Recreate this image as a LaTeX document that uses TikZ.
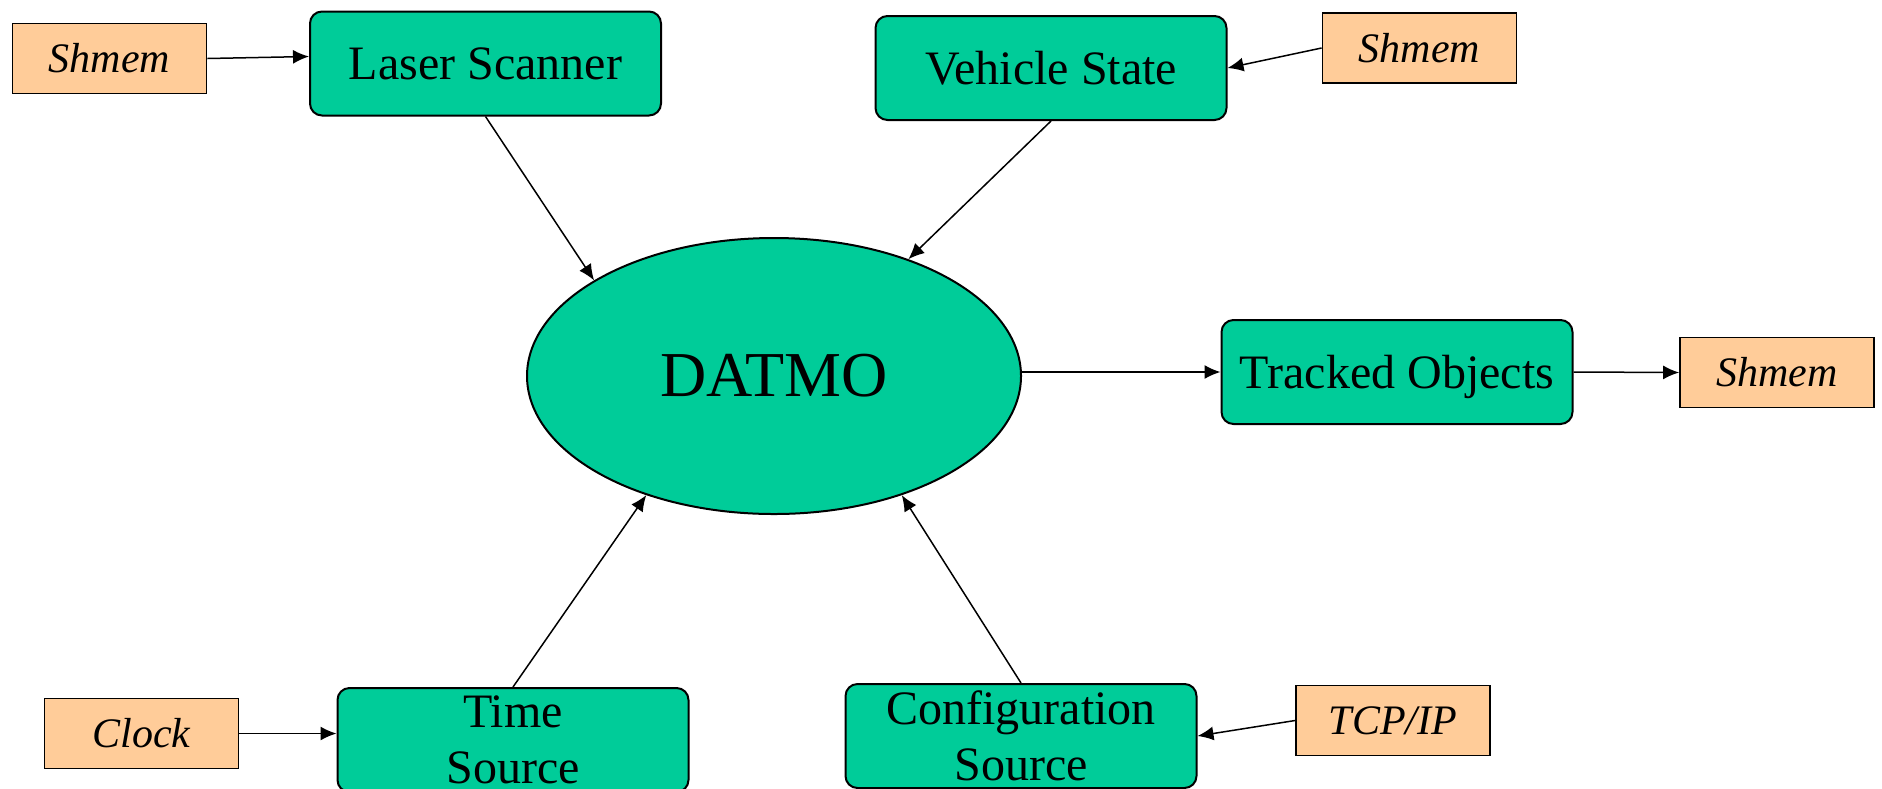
\documentclass[tikz,border=0pt]{standalone}
\usepackage{fontspec}
\setmainfont{Liberation Serif}
\usetikzlibrary{shapes.geometric,arrows.meta}
\definecolor{boxgreen}{RGB}{0,204,153}
\definecolor{boxorange}{RGB}{255,204,153}
\begin{document}
\begin{tikzpicture}[x=0.5pt,y=-0.5pt,
  module/.style={draw=black, line width=1pt, fill=boxgreen, rounded corners=6pt,
    minimum width=175.5pt, minimum height=52pt, inner sep=0pt,
    font=\fontsize{24}{28}\selectfont, align=center},
  src/.style={draw=black, line width=0.9pt, fill=boxorange,
    minimum width=97pt, minimum height=35pt, inner sep=0pt,
    font=\fontsize{21}{25}\selectfont\itshape},
  flow/.style={-{Latex[length=8pt,width=7pt]}, line width=0.75pt}]
\useasboundingbox (0,0) rectangle (1882,788);

\node[src] (shm1) at (109.5,58.5) {Shmem};
\node[module] (laser) at (485.5,63.5) {Laser Scanner};
\node[module] (vehicle) at (1051,68) {Vehicle State};
\node[src] (shm2) at (1419.5,48) {Shmem};
\node[ellipse, draw=black, line width=1pt, fill=boxgreen, minimum width=247pt,
  minimum height=138pt, inner sep=0pt, font=\fontsize{32}{38}\selectfont] (datmo) at (774,376) {DATMO};
\node[module, text depth=0pt] (tracked) at (1397,372) {Tracked Objects};
\node[src] (shm3) at (1777,372.5) {Shmem};
\node[src] (clock) at (141.5,733.5) {Clock};
\node[module] (time) at (513,740) {Time\\Source};
\node[module] (config) at (1021,736) {Configuration\\Source};
\node[src] (tcp) at (1393,720.5) {TCP/IP};

\draw[flow] (shm1.east) -- ([yshift=3.5pt]laser.west);
\draw[flow] (laser.south) -- (datmo.152);
\draw[flow] (vehicle.south) -- (datmo.41);
\draw[flow] (shm2.west) -- (vehicle.east);
\draw[flow] (tracked.west -| datmo.east) -- (tracked.west);
\draw[flow] (tracked.east) -- (shm3.west);
\draw[flow] (clock.east) -- (clock.east -| time.west);
\draw[flow] (time.north) -- (datmo.223);
\draw[flow] (config.north) -- (datmo.317);
\draw[flow] (tcp.west) -- (config.east);
\end{tikzpicture}
\end{document}
